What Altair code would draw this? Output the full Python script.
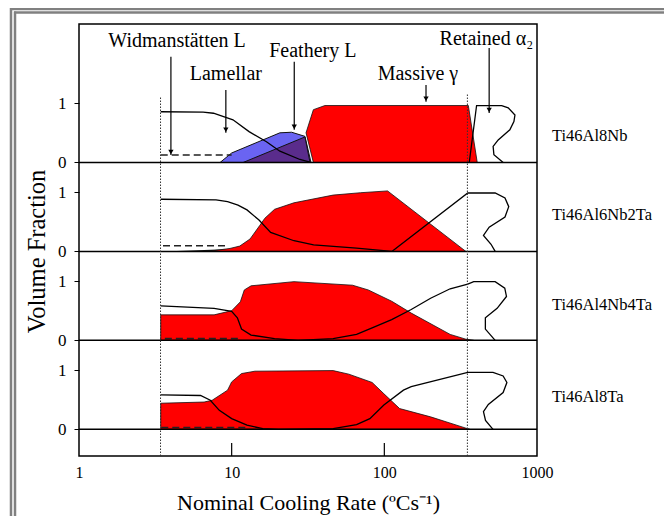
import altair as alt
import pandas as pd

alloys = ["Ti46Al8Nb", "Ti46Al6Nb2Ta", "Ti46Al4Nb4Ta", "Ti46Al8Ta"]
offsets = [4.5, 3.0, 1.5, 0.0]          # stacking of the four panels (volume-fraction units)
label_levels = [0.45, 0.62, 0.60, 0.55]  # vertical level of the alloy names

# ---------- Ti46Al8Nb ----------
p1_lam_x = [3.43, 6.5, 7.6, 10.2, 13, 16.9, 20.7, 28, 33]
p1_lam_v = [0.855, 0.85, 0.83, 0.72, 0.52, 0.35, 0.19, 0.05, 0.0]
p1_wid_x = [3.43, 10]
p1_wid_v = [0.125, 0.125]
p1_fea_x = [8.4, 10, 20.7, 24.7, 30.2, 33.1]
p1_fea_v = [0, 0.16, 0.50, 0.51, 0.44, 0]
p1_fea2_x = [11.9, 30.2, 32.6]
p1_fea2_v = [0, 0.43, 0]
p1_mas_x = [30.7, 34.3, 40.8, 355, 406]
p1_mas_top = [0.50, 0.89, 0.96, 0.96, 0.0]
p1_mas_bot = [0.50, 0.0, 0.0, 0.0, 0.0]
p1_ret_x = [360, 402, 587, 648, 717, 706, 664, 557, 516, 522, 587, 600]
p1_ret_v = [0, 0.96, 0.96, 0.92, 0.80, 0.69, 0.55, 0.38, 0.27, 0.13, 0.02, 0]

# ---------- Ti46Al6Nb2Ta ----------
p2_lam_x = [3.43, 7.9, 9.4, 11, 12.6, 15.1, 18.0, 25.6, 34.4, 65.8, 112]
p2_lam_v = [0.88, 0.87, 0.84, 0.78, 0.70, 0.53, 0.32, 0.18, 0.11, 0.055, 0.0]
p2_wid_x = [3.55, 9.3]
p2_wid_v = [0.095, 0.095]
p2_min_x = [3.55, 9.0, 12.0, 14.5]
p2_min_v = [0, 0.035, 0.05, 0]
p2_mas_x = [7.0, 9.75, 11.3, 13.2, 15.3, 16.5, 19.1, 25.6, 46.2, 70, 105, 342]
p2_mas_v = [0, 0.05, 0.09, 0.21, 0.44, 0.56, 0.71, 0.82, 0.95, 0.99, 1.02, 0]
p2_ret_x = [112, 352, 532, 617, 653, 617, 486, 446, 500, 532]
p2_ret_v = [0, 0.985, 0.985, 0.90, 0.755, 0.58, 0.41, 0.27, 0.12, 0]

# ---------- Ti46Al4Nb4Ta ----------
p3_mas_x = [3.43, 7.67, 10, 11.4, 12.1, 13.4, 25.6, 61.9, 78.5, 111.7, 150, 270, 342, 385]
p3_mas_v = [0.43, 0.43, 0.50, 0.65, 0.85, 0.92, 0.99, 0.93, 0.85, 0.66, 0.46, 0.10, 0.02, 0]
p3_lam_x = [3.43, 7.67, 10, 10.9, 11.6, 13.4, 19.1, 27.2]
p3_lam_v = [0.58, 0.54, 0.49, 0.38, 0.19, 0.09, 0.03, 0]
p3_ret_x = [27.2, 46.2, 65.8, 83.2, 111.7, 150, 201, 270, 352, 385, 532, 615, 631, 548, 459, 459, 532]
p3_ret_v = [0, 0.03, 0.10, 0.21, 0.35, 0.52, 0.71, 0.87, 0.95, 0.99, 0.99, 0.88, 0.74, 0.54, 0.38, 0.19, 0]
p3_wid_x = [3.65, 11.3]
p3_wid_v = [0.03, 0.03]

# ---------- Ti46Al8Ta ----------
p4_mas_x = [3.43, 6.6, 7.45, 9.4, 10, 11.6, 14.2, 46.2, 58.5, 83.2, 99.3, 125.9, 201, 342, 363]
p4_mas_v = [0.44, 0.46, 0.49, 0.66, 0.80, 0.94, 0.98, 0.99, 0.93, 0.79, 0.60, 0.35, 0.21, 0.02, 0]
p4_lam_x = [3.43, 6.25, 7.25, 8.3, 10, 12.6, 16, 20.3]
p4_lam_v = [0.58, 0.57, 0.49, 0.32, 0.18, 0.07, 0.01, 0]
p4_ret_x = [20.3, 46.2, 65.8, 80.4, 99.3, 133.4, 150, 352, 515, 600, 635, 600, 480, 446, 460, 515]
p4_ret_v = [0, 0.01, 0.08, 0.18, 0.41, 0.66, 0.72, 0.96, 0.96, 0.90, 0.79, 0.62, 0.42, 0.30, 0.15, 0]
p4_wid_x = [3.46, 12.6]
p4_wid_v = [0.03, 0.03]

# ---------- annotations (levels in Ti46Al8Nb panel units) ----------
ann_text = ["Widmanstätten L", "Lamellar", "Feathery L", "Massive γ", "Retained α₂"]
ann_x = [4.39, 9.16, 34, 166, 466]
ann_level = [1.947, 1.39, 1.783, 1.39, 1.98]
arrow_x = [4.0, 9.16, 25.7, 187.5, 486]
arrow_top = [1.783, 1.22, 1.70, 1.306, 1.93]
arrow_tip = [0.126, 0.50, 0.55, 1.024, 0.834]

# boundaries of the cooling-rate range studied (dotted lines)
bound_x = [3.42, 350]
bound_top = [5.61, 5.67]
minor_ticks = [10, 100]
Y_MIN, Y_MAX = -0.45, 6.835


def build(parts):
    rows = []
    for name, panel, xs, vs, bots in parts:
        off = offsets[panel]
        for i, (x, v) in enumerate(zip(xs, vs)):
            b = bots[i] if bots is not None else 0.0
            rows.append({"x": x, "y": v + off, "y2": b + off, "series": name, "order": i})
    return pd.DataFrame(rows)


red_df = build([
    ("m1", 0, p1_mas_x, p1_mas_top, p1_mas_bot),
    ("m2", 1, p2_mas_x, p2_mas_v, None),
    ("m3", 2, p3_mas_x, p3_mas_v, None),
    ("m4", 3, p4_mas_x, p4_mas_v, None),
])
blue_df = build([("f1", 0, p1_fea_x, p1_fea_v, None)])
purple_df = build([("f2", 0, p1_fea2_x, p1_fea2_v, None)])
black_df = build([("b2", 1, p2_min_x, p2_min_v, None)])
line_df = build([
    ("l1", 0, p1_lam_x, p1_lam_v, None), ("r1", 0, p1_ret_x, p1_ret_v, None),
    ("l2", 1, p2_lam_x, p2_lam_v, None), ("r2", 1, p2_ret_x, p2_ret_v, None),
    ("l3", 2, p3_lam_x, p3_lam_v, None), ("r3", 2, p3_ret_x, p3_ret_v, None),
    ("l4", 3, p4_lam_x, p4_lam_v, None), ("r4", 3, p4_ret_x, p4_ret_v, None),
])
dash_df = build([
    ("w1", 0, p1_wid_x, p1_wid_v, None), ("w2", 1, p2_wid_x, p2_wid_v, None),
    ("w3", 2, p3_wid_x, p3_wid_v, None), ("w4", 3, p4_wid_x, p4_wid_v, None),
])
zero_df = pd.DataFrame({"y": offsets})
bound_df = pd.DataFrame({"x": bound_x, "y": [Y_MIN] * 2, "y2": bound_top})
tick_df = pd.DataFrame({"x": minor_ticks, "y": [Y_MIN] * 2, "y2": [Y_MIN + 0.22] * 2})
ann_df = pd.DataFrame({"x": ann_x, "y": [v + offsets[0] for v in ann_level], "text": ann_text})
arrow_df = pd.DataFrame({"x": arrow_x,
                         "y": [v + offsets[0] for v in arrow_top],
                         "y2": [v + offsets[0] for v in arrow_tip]})
head_df = pd.DataFrame({"x": arrow_x, "y": [v + offsets[0] for v in arrow_tip]})
alloy_df = pd.DataFrame({"x": [1000] * 4,
                         "y": [o + l for o, l in zip(offsets, label_levels)],
                         "text": alloys})
frame_df = pd.DataFrame({"k": [0]})

FONT = "Liberation Serif"

X = alt.X("x:Q", scale=alt.Scale(type="log", domain=[1, 1000]),
          axis=alt.Axis(values=[1, 10, 100, 1000], format="d", ticks=False, tickSize=0,
                        labelFlush=False, labelOverlap=False,
                        domain=False, grid=False, labelFontSize=16, labelPadding=8,
                        labelFont=FONT, labelColor="black",
                        title="Nominal Cooling Rate (ºCs⁻¹)", titleFont=FONT,
                        titleFontSize=22, titleFontWeight="normal", titleColor="black",
                        titleY=53, titleBaseline="alphabetic"))
Y = alt.Y("y:Q", scale=alt.Scale(domain=[Y_MIN, Y_MAX], nice=False, zero=False),
          axis=alt.Axis(values=[0, 1, 1.5, 2.5, 3, 4, 4.5, 5.5],
                        labelExpr="(datum.value % 1.5 == 0) ? '0' : '1'",
                        tickSize=5, tickColor="black", domain=False, grid=False,
                        labelFontSize=17, labelPadding=8, labelFont=FONT, labelColor="black",
                        title="Volume Fraction", titleFont=FONT, titleFontSize=24.5,
                        titleFontWeight="normal", titleColor="black",
                        titleX=-42, titleY=227, titleAngle=270,
                        titleBaseline="middle", titleAlign="center"))

# decorative double frame (left and top edges are what shows in the picture)
FR = dict(color="#808080", strokeWidth=2.5)
frame = [
    alt.Chart(frame_df).mark_rule(**FR).encode(x=alt.value(-68), y=alt.value(-16), y2=alt.value(600)),
    alt.Chart(frame_df).mark_rule(**FR).encode(x=alt.value(-69), x2=alt.value(700), y=alt.value(-15)),
    alt.Chart(frame_df).mark_rule(**FR).encode(x=alt.value(-64), y=alt.value(-12.5), y2=alt.value(600)),
    alt.Chart(frame_df).mark_rule(**FR).encode(x=alt.value(-65), x2=alt.value(700), y=alt.value(-11.5)),
]

blue = alt.Chart(blue_df).mark_area(color="#6a64f2", stroke="#111", strokeWidth=1).encode(
    x=X, y=Y, y2="y2:Q", detail="series:N")
purple = alt.Chart(purple_df).mark_area(color="#5a2c8c", stroke="#111", strokeWidth=1).encode(
    x=X, y=Y, y2="y2:Q", detail="series:N")
blackarea = alt.Chart(black_df).mark_area(color="#111").encode(
    x=X, y=Y, y2="y2:Q", detail="series:N")
red = alt.Chart(red_df).mark_area(color="#ff0000", stroke="#111", strokeWidth=0.8).encode(
    x=X, y=Y, y2="y2:Q", detail="series:N")
lines = alt.Chart(line_df).mark_line(color="black", strokeWidth=1.3).encode(
    x=X, y=Y, detail="series:N", order="order:Q")
dashes = alt.Chart(dash_df).mark_line(color="#222", strokeWidth=1.6, strokeDash=[7, 4]).encode(
    x=X, y=Y, detail="series:N", order="order:Q")
zeros = alt.Chart(zero_df).mark_rule(color="black", strokeWidth=1.5).encode(y=Y)
bounds = alt.Chart(bound_df).mark_rule(color="#333", strokeWidth=1, strokeDash=[1.5, 1.5]).encode(
    x=X, y=Y, y2="y2:Q")
ticks = alt.Chart(tick_df).mark_rule(color="black", strokeWidth=1.2).encode(x=X, y=Y, y2="y2:Q")
ann = alt.Chart(ann_df).mark_text(font=FONT, fontSize=20, align="center", baseline="alphabetic",
                                  color="black").encode(x=X, y=Y, text="text:N")
arrows = alt.Chart(arrow_df).mark_rule(color="black", strokeWidth=1.2).encode(x=X, y=Y, y2="y2:Q")
heads = alt.Chart(head_df).mark_point(shape="triangle-down", filled=True, size=28, color="black",
                                      opacity=1, yOffset=-3).encode(x=X, y=Y)
alloy = alt.Chart(alloy_df).mark_text(font=FONT, fontSize=16.5, align="left", baseline="middle",
                                      dx=15, color="black").encode(x=X, y=Y, text="text:N")

chart = alt.layer(*frame, blue, purple, blackarea, red, lines, dashes, zeros,
                  bounds, ticks, ann, arrows, heads, alloy).properties(
    width=458, height=432,
    padding={"left": 71, "top": 16, "right": 127, "bottom": 60},
    autosize=alt.AutoSizeParams(type="none"),
    background="white",
).configure_view(stroke="black", strokeWidth=1.5)

chart.save("out.html", embed_options={"renderer": "svg", "actions": False})
